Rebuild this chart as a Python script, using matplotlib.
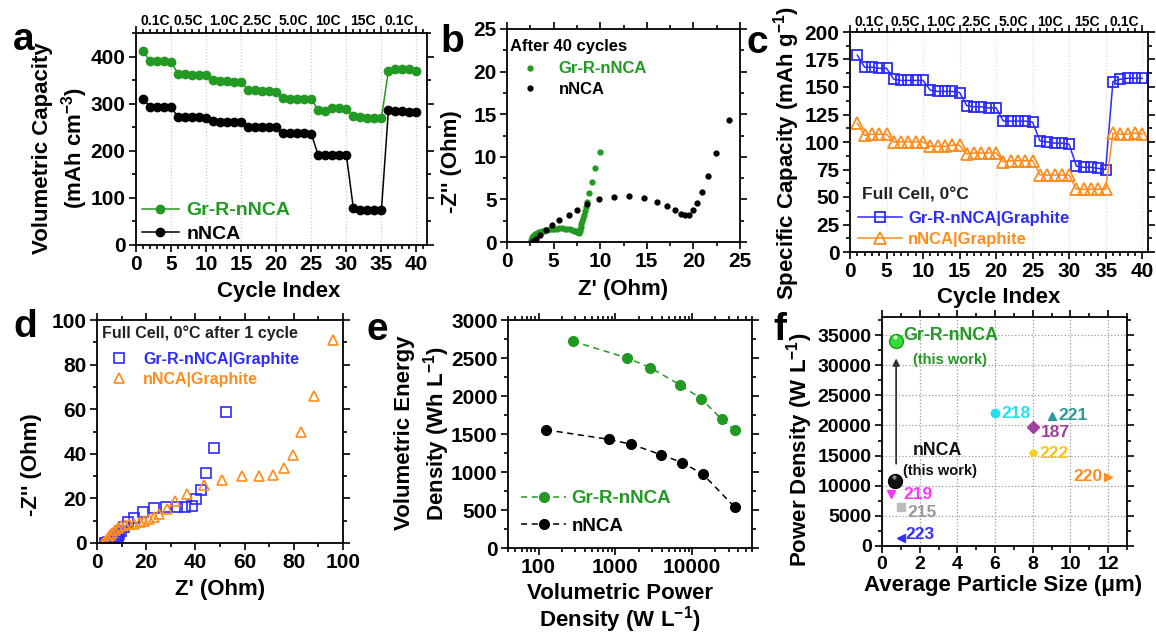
import numpy as np
import matplotlib.pyplot as plt
from matplotlib.ticker import MultipleLocator, LogLocator, NullFormatter

plt.rcParams['font.family'] = ['Liberation Sans', 'DejaVu Sans']
plt.rcParams['font.weight'] = 'bold'
plt.rcParams['axes.labelweight'] = 'bold'
plt.rcParams['mathtext.fontset'] = 'custom'
plt.rcParams['mathtext.rm'] = 'Liberation Sans:bold'
plt.rcParams['mathtext.default'] = 'rm'
plt.rcParams['axes.linewidth'] = 1.3

W, H = 1156, 633

# ---------------- data ----------------
cycles = list(range(1, 41))
rate_labels = ['0.1C', '0.5C', '1.0C', '2.5C', '5.0C', '10C', '15C', '0.1C']
rate_centers = [2.7, 7.5, 12.5, 17.3, 22.4, 27.4, 32.4, 37.5]

# a: volumetric capacity (mAh cm-3)
vol_grr = [412, 390, 390, 390, 389, 363, 362, 361, 360, 360,
           350, 349, 348, 347, 345, 330, 328, 327, 327, 325,
           312, 310, 310, 310, 310, 286, 285, 291, 290, 288,
           273, 271, 270, 269, 270, 370, 373, 374, 373, 370]
vol_nnca = [310, 293, 292, 292, 292, 272, 271, 271, 271, 270,
            263, 262, 262, 262, 262, 251, 250, 250, 250, 250,
            237, 237, 237, 237, 236, 190, 190, 190, 190, 191,
            78, 75, 74, 74, 74, 287, 285, 284, 283, 282]

# b: EIS after 40 cycles
b_grr_re = [2.55, 2.6, 2.65, 2.72, 2.8, 2.9, 3.0, 3.12, 3.25, 3.4, 3.56, 3.73, 3.92,
            4.12, 4.34, 4.57, 4.82, 5.08, 5.35, 5.63, 5.92, 6.2, 6.48, 6.75, 7.0,
            7.22, 7.4, 7.55, 7.66, 7.74, 7.8, 7.86, 7.92, 7.98, 8.05, 8.13, 8.22,
            8.32, 8.44, 8.59, 8.78, 9.1, 9.45, 9.95]
b_grr_im = [0.1, 0.25, 0.4, 0.55, 0.68, 0.8, 0.9, 0.99, 1.07, 1.15, 1.22, 1.28, 1.34,
            1.39, 1.44, 1.48, 1.52, 1.55, 1.58, 1.6, 1.6, 1.58, 1.55, 1.49, 1.42,
            1.34, 1.25, 1.17, 1.12, 1.1, 1.25, 1.5, 1.8, 2.1, 2.45, 2.8, 3.2,
            3.6, 4.1, 4.75, 5.8, 7.1, 8.7, 10.6]
b_nnca_re = [2.8, 3.1, 3.56, 4.2, 4.8, 5.6, 6.6, 7.5, 8.6, 9.9, 11.5, 13.1, 14.7,
             16.1, 17.2, 18.0, 18.7, 19.1, 19.5, 20.0, 20.4, 20.9, 21.6, 22.4, 23.8]
b_nnca_im = [0.1, 0.4, 0.8, 1.4, 2.0, 2.6, 3.2, 3.8, 4.5, 5.0, 5.3, 5.4, 5.2,
             4.7, 4.2, 3.7, 3.3, 3.15, 3.2, 3.7, 4.6, 5.9, 7.8, 10.5, 14.3]

# c: specific capacity, full cell 0 C (mAh g-1)
spec_grr = [179, 168, 168, 167, 167, 157, 156, 156, 156, 156,
            147, 146, 146, 146, 145, 133, 132, 132, 131, 131,
            119, 119, 119, 119, 118, 101, 100, 99, 99, 98,
            78, 77, 77, 76, 75, 155, 157, 158, 158, 158]
spec_nnca = [117, 106, 107, 107, 107, 100, 100, 100, 100, 100,
             96, 96, 96, 97, 97, 89, 90, 90, 90, 90,
             82, 83, 83, 83, 83, 70, 70, 70, 70, 70,
             57, 57, 57, 57, 57, 108, 107, 107, 108, 107]

# d: EIS full cell after 1 cycle
d_grr_re = [3.1, 3.5, 4.1, 4.6, 5.4, 6.0, 6.7, 7.2, 7.7, 8.1, 8.4, 9.0, 9.9, 11.1,
            12.8, 15.2, 18.9, 23.2, 28.0, 32.4, 35.8, 38.5, 40.3, 42.3, 44.3, 47.7, 52.6]
d_grr_im = [0.0, 0.05, 0.15, 0.3, 0.45, 0.7, 1.0, 1.4, 1.8, 2.3, 2.8, 4.0, 5.5, 7.3,
            9.3, 11.4, 13.8, 15.5, 16.3, 16.1, 16.1, 16.7, 19.6, 23.6, 31.3, 42.7, 58.7]
d_nnca_re = [2.3, 3.4, 4.5, 5.4, 6.3, 7.4, 8.5, 9.7, 11.2, 13.2, 15.2, 17.3, 19.3,
             21.3, 23.3, 25.4, 28.4, 31.7, 36.7, 43.3, 50.8, 59.1, 65.8, 71.4, 75.9,
             79.7, 83.1, 88.2, 96.0]
d_nnca_im = [0.1, 1.0, 2.2, 3.5, 4.6, 5.8, 6.9, 7.6, 8.1, 8.4, 8.7, 9.3, 10.0,
             10.8, 11.5, 13.0, 15.2, 18.8, 21.8, 26.0, 28.3, 29.9, 29.9, 30.6, 33.6,
             39.6, 49.8, 66.1, 91.2]

# e: Ragone (volumetric)
e_grr_power = [280, 1430, 2810, 6840, 13100, 24100, 35600]
e_grr_energy = [2720, 2500, 2375, 2150, 1965, 1695, 1555]
e_nnca_power = [125, 815, 1610, 3870, 7410, 13800, 35600]
e_nnca_energy = [1555, 1430, 1365, 1230, 1125, 970, 540]

# f: power density vs particle size
work_size = [0.75, 0.7]
work_power = [34000, 10800]
ref_names = ['218', '221', '187', '222', '220', '219', '215', '223']
ref_size = [6, 9, 8, 8, 12, 0.5, 1.0, 1.0]
ref_power = [22000, 21600, 19700, 15500, 11500, 8600, 6400, 1400]

# ---------------- styling ----------------
GREEN = '#229922'
BLUE = '#2b2bff'
ORANGE = '#ff8c1a'

fig = plt.figure(figsize=(W / 100, H / 100), dpi=100)


def add_ax(l, t, r, b):
    return fig.add_axes([l / W, 1 - b / H, (r - l) / W, (b - t) / H])


def style(ax, fs=15):
    ax.tick_params(which='both', direction='out', top=True, right=True,
                   labelsize=fs, width=1.2)
    ax.tick_params(which='major', length=5, pad=2.5)
    ax.tick_params(which='minor', length=3)


def ylab(ax, text, x, y, fs=16, ls=1.2):
    ax.set_ylabel(text, fontsize=fs, linespacing=ls)
    ax.yaxis.label.set_va('center')
    ax.yaxis.set_label_coords(x / W, 1 - y / H, transform=fig.transFigure)


def xlab(ax, text, x, y, fs=16, ls=1.2):
    ax.set_xlabel(text, fontsize=fs, linespacing=ls)
    ax.xaxis.label.set_va('center')
    ax.xaxis.set_label_coords(x / W, 1 - y / H, transform=fig.transFigure)


def letter(t, x, y):
    fig.text(x / W, 1 - y / H, t, fontsize=28, weight='bold', ha='center', va='center')


# ---------------- a ----------------
ax = add_ax(136, 33, 427, 245)
ax.plot(cycles, vol_grr, '-o', color=GREEN, ms=6, lw=1.1, label='Gr-R-nNCA')
ax.plot(cycles, vol_nnca, '-o', color='black', ms=6, lw=1.1, label='nNCA')
ax.set_xlim(0, 41.5)
ax.set_ylim(0, 450)
ax.xaxis.set_major_locator(MultipleLocator(5))
ax.xaxis.set_minor_locator(MultipleLocator(1))
ax.yaxis.set_major_locator(MultipleLocator(100))
ax.yaxis.set_minor_locator(MultipleLocator(50))
ax.grid(axis='x', ls=':', color='#cccccc', lw=0.9)
style(ax)
for c, lab in zip(rate_centers, rate_labels):
    ax.text(c, 1.055, lab, transform=ax.get_xaxis_transform(), ha='center',
            va='center', fontsize=10)
ax.legend(loc='lower left', bbox_to_anchor=(-0.02, -0.045), frameon=False,
          labelcolor='linecolor', prop={'weight': 'bold', 'size': 14},
          handlelength=1.9, handletextpad=0.4, borderaxespad=0.2, labelspacing=0.3)
ylab(ax, 'Volumetric Capacity\n(mAh cm$^{-3}$)', 61, 148, ls=1.3)
xlab(ax, 'Cycle Index', 279, 292)
letter('a', 24, 40)

# ---------------- b ----------------
ax = add_ax(507, 29, 740, 242)
ax.plot(b_grr_re, b_grr_im, 'o', color=GREEN, ms=3.5, ls='none', label='Gr-R-nNCA')
ax.plot(b_nnca_re, b_nnca_im, 'o', color='black', ms=3.5, ls='none', label='nNCA')
ax.set_xlim(0, 25)
ax.set_ylim(0, 25)
ax.xaxis.set_major_locator(MultipleLocator(5))
ax.xaxis.set_minor_locator(MultipleLocator(2.5))
ax.yaxis.set_major_locator(MultipleLocator(5))
ax.yaxis.set_minor_locator(MultipleLocator(2.5))
style(ax)
ax.text(0.015, 0.92, 'After 40 cycles', transform=ax.transAxes, fontsize=12,
        ha='left', va='center')
ax.legend(loc='upper left', bbox_to_anchor=(0.0, 0.895), frameon=False,
          labelcolor='linecolor', prop={'weight': 'bold', 'size': 12},
          handlelength=1.6, handletextpad=0.9, borderaxespad=0.2, labelspacing=0.35)
ylab(ax, "-Z'' (Ohm)", 451, 162)
xlab(ax, "Z' (Ohm)", 623, 290)
letter('b', 452, 42)

# ---------------- c ----------------
ax = add_ax(850, 32, 1148, 252)
ax.plot(cycles, spec_grr, '-s', color=BLUE, mfc='none', mew=1.3, ms=7, lw=1.1,
        label='Gr-R-nNCA|Graphite')
ax.plot(cycles, spec_nnca, '-^', color=ORANGE, mfc='none', mew=1.3, ms=8, lw=1.1,
        label='nNCA|Graphite')
ax.set_xlim(0, 40.8)
ax.set_ylim(0, 200)
ax.xaxis.set_major_locator(MultipleLocator(5))
ax.xaxis.set_minor_locator(MultipleLocator(1))
ax.yaxis.set_major_locator(MultipleLocator(25))
ax.yaxis.set_minor_locator(MultipleLocator(12.5))
ax.grid(axis='x', ls=':', color='#dddddd', lw=0.9)
style(ax)
for c, lab in zip(rate_centers, rate_labels):
    ax.text(c, 1.047, lab, transform=ax.get_xaxis_transform(), ha='center',
            va='center', fontsize=10)
ax.text(0.04, 0.26, 'Full Cell, 0\u00b0C', transform=ax.transAxes, fontsize=12.5,
        ha='left', va='center', color='#222222')
ax.legend(loc='lower left', bbox_to_anchor=(0.0, -0.015), frameon=False,
          labelcolor='linecolor', prop={'weight': 'bold', 'size': 12},
          handlelength=2.6, handletextpad=0.4, borderaxespad=0.1, labelspacing=0.35)
ylab(ax, 'Specific Capacity (mAh g$^{-1}$)', 787, 153)
xlab(ax, 'Cycle Index', 999, 297)
letter('c', 757, 43)

# ---------------- d ----------------
ax = add_ax(97, 320, 343, 543)
ax.plot(d_grr_re, d_grr_im, 's', color=BLUE, mfc='none', mew=1.2, ms=6.5, ls='none',
        label='Gr-R-nNCA|Graphite')
ax.plot(d_nnca_re, d_nnca_im, '^', color=ORANGE, mfc='none', mew=1.2, ms=7.5, ls='none',
        label='nNCA|Graphite')
ax.set_xlim(0, 100)
ax.set_ylim(0, 100)
ax.xaxis.set_major_locator(MultipleLocator(20))
ax.xaxis.set_minor_locator(MultipleLocator(10))
ax.yaxis.set_major_locator(MultipleLocator(20))
ax.yaxis.set_minor_locator(MultipleLocator(10))
style(ax)
ax.text(0.02, 0.94, 'Full Cell, 0\u00b0C after 1 cycle', transform=ax.transAxes,
        fontsize=11.5, ha='left', va='center', color='#222222')
ax.legend(loc='upper left', bbox_to_anchor=(0.0, 0.9), frameon=False,
          labelcolor='linecolor', prop={'weight': 'bold', 'size': 11.5},
          handlelength=1.6, handletextpad=0.7, borderaxespad=0.2, labelspacing=0.3)
ylab(ax, "-Z'' (Ohm)", 32, 465)
xlab(ax, "Z' (Ohm)", 220, 590)
letter('d', 25, 327)

# ---------------- e ----------------
ax = add_ax(508, 320, 752, 548)
ax.plot(e_grr_power, e_grr_energy, '--o', color=GREEN, ms=7, lw=1.1,
        dashes=(4, 3), label='Gr-R-nNCA')
ax.plot(e_nnca_power, e_nnca_energy, '--o', color='black', ms=7, lw=1.1,
        dashes=(4, 3), label='nNCA')
ax.set_xscale('log')
ax.set_xlim(40, 60000)
ax.set_ylim(0, 3000)
ax.xaxis.set_minor_locator(LogLocator(base=10, subs=np.arange(2, 10), numticks=10))
ax.xaxis.set_minor_formatter(NullFormatter())
ax.set_xticks([100, 1000, 10000])
ax.set_xticklabels(['100', '1000', '10000'])
ax.yaxis.set_major_locator(MultipleLocator(500))
ax.yaxis.set_minor_locator(MultipleLocator(250))
style(ax)
ax.legend(loc='lower left', bbox_to_anchor=(0.0, 0.0), frameon=False,
          labelcolor='linecolor', prop={'weight': 'bold', 'size': 13.5},
          handlelength=2.4, handletextpad=0.3, borderaxespad=0.3, labelspacing=0.55)
ylab(ax, 'Volumetric Energy\nDensity (Wh L$^{-1}$)', 423, 433, ls=1.3)
xlab(ax, 'Volumetric Power\nDensity (W L$^{-1}$)', 620, 609, ls=1.0)
letter('e', 377, 330)

# ---------------- f ----------------
ax = add_ax(882, 317, 1127, 546)
ref_markers = ['o', '^', 'D', 'p', '>', 'v', 's', '<']
ref_colors = ['#22e0ee', '#2a9a9a', '#a040a0', '#f5d020', ORANGE, '#ff33ff',
              '#bbbbbb', '#3333ff']
ref_text_colors = ['#22e0ee', '#2a9a9a', '#a040a0', '#f5c518', ORANGE, '#ff33ff',
                   '#999999', '#3333ff']
ref_offsets = [(6, 0), (7, 0), (8, -5), (7, -1), (-6, 0), (12, 0), (7, -5), (5, 3)]
for name, xs, ys, mk, col, tcol, off in zip(ref_names, ref_size, ref_power, ref_markers,
                                             ref_colors, ref_text_colors, ref_offsets):
    ax.plot(xs, ys, mk, color=col, ms=6, ls='none')
    ax.annotate(name, (xs, ys), xytext=(off[0] * 0.72, off[1] * 0.72),
                textcoords='offset points', ha='left' if off[0] > 0 else 'right',
                va='center', color=tcol, fontsize=12.5, weight='bold')
# this work: shaded spheres
ax.plot(work_size[0], work_power[0], 'o', color='#33dd33', mec='#119911', ms=10)
ax.plot(work_size[0] - 0.08, work_power[0] + 600, 'o', color='#ccffcc', mec='none', ms=3)
ax.plot(work_size[1], work_power[1], 'o', color='#111111', mec='#000000', ms=10)
ax.plot(work_size[1] - 0.08, work_power[1] + 600, 'o', color='#888888', mec='none', ms=3)
ax.annotate('', xy=(work_size[0], 31600), xytext=(work_size[0], 13200),
            arrowprops=dict(arrowstyle='-|>', color='#333333', lw=1.3, mutation_scale=10))
ax.text(1.12, 35000, 'Gr-R-nNCA', color=GREEN, fontsize=12.8, ha='left', va='center')
ax.text(3.6, 30860, '(this work)', color=GREEN, fontsize=10.5, ha='center', va='center')
ax.text(2.96, 15800, 'nNCA', color='#111111', fontsize=12.8, ha='center', va='center')
ax.text(3.08, 12500, '(this work)', color='#111111', fontsize=10.5, ha='center', va='center')
ax.set_xlim(0, 13)
ax.set_ylim(0, 38000)
ax.xaxis.set_major_locator(MultipleLocator(2))
ax.xaxis.set_minor_locator(MultipleLocator(1))
ax.yaxis.set_major_locator(MultipleLocator(5000))
ax.yaxis.set_minor_locator(MultipleLocator(2500))
ax.grid(which='major', ls=':', color='#999999', lw=0.9)
ax.set_axisbelow(True)
style(ax, fs=14)
ylab(ax, 'Power Density (W L$^{-1}$)', 800, 450)
xlab(ax, 'Average Particle Size (\u03bcm)', 1003, 585)
letter('f', 780, 330)

fig.savefig('out.png', dpi=100)
